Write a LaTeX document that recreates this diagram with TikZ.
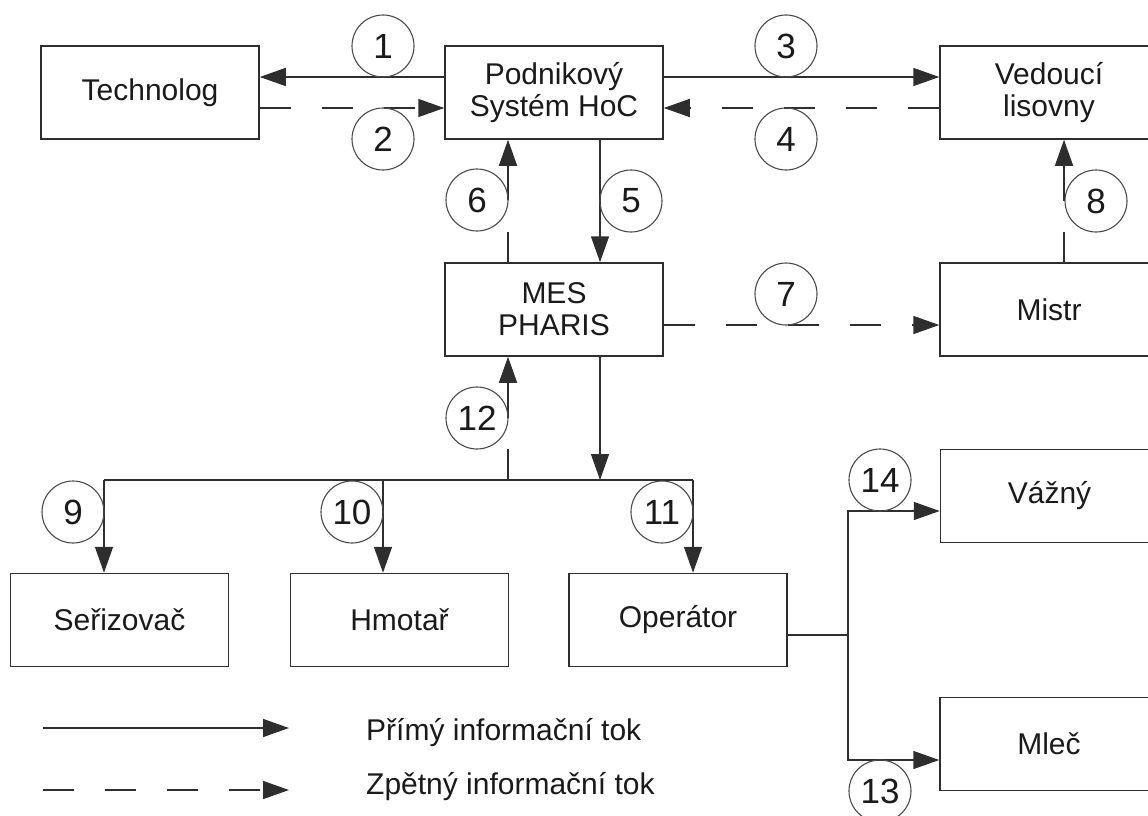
\documentclass[tikz,border=0pt]{standalone}
\usepackage{fontspec}
\setmainfont{Liberation Sans}
\usetikzlibrary{arrows.meta,calc}
\definecolor{linec}{HTML}{2E2E2E}
\definecolor{circc}{HTML}{4A4A4A}
\definecolor{txt}{HTML}{1A1A1A}
\begin{document}
\begin{tikzpicture}[x=1pt,y=-1pt,
  box/.style={draw=linec, line width=1.5pt, minimum width=218pt, minimum height=93pt,
    inner sep=0pt, align=center, text=txt, font=\fontsize{30}{32}\selectfont},
  num/.style={circle, draw=circc, line width=1.1pt, minimum size=62pt, inner sep=0pt,
    text=txt, font=\fontsize{35}{35}\selectfont},
  wire/.style={draw=linec, line width=1.5pt},
  flow/.style={wire, -{Triangle[length=26pt,width=18pt]}},
  back/.style={flow, dash pattern=on 31pt off 31pt},
  legtext/.style={anchor=west, inner sep=0pt, text=txt, font=\fontsize{30}{32}\selectfont}
]
\useasboundingbox (0,0) rectangle (1148,816);

% blocks
\node[box] (tech)  at (150,92.5)    {Technolog};
\node[box] (pod)   at (554,92.5)    {Podnikový\\Systém HoC};
\node[box] (ved)   at (1049,92.5)   {Vedoucí\\lisovny};
\node[box] (mes)   at (554,309.5)   {MES\\PHARIS};
\node[box] (mistr) at (1049,309.5)  {Mistr};
\node[box] (ser)   at (119.5,620)   {Seřizovač};
\node[box] (hmo)   at (399.5,620)   {Hmotař};
\node[box] (op)    at (678,620)     {Operátor};
\node[box] (vaz)   at (1049.5,496)  {Vážný};
\node[box] (mlec)  at (1049,744)    {Mleč};

% upper flows
\draw[flow] ([yshift=15.5pt]pod.west) -- ([yshift=15.5pt]tech.east);
\draw[back] ([yshift=-15.5pt]tech.east) -- ([yshift=-15.5pt]pod.west);
\draw[flow] ([yshift=15.5pt]pod.east) -- ([yshift=15.5pt]ved.west);
\draw[back] ([yshift=-15.5pt]ved.west) -- ([yshift=-15.5pt]pod.east);
\draw[flow] ([xshift=46pt]pod.south) -- ([xshift=46pt]mes.north);
\draw[flow] ([xshift=-46pt]mes.north) -- ([xshift=-46pt]pod.south);
\draw[back] ([yshift=-15.5pt]mes.east) -- ([yshift=-15.5pt]mistr.west);
\draw[flow] ([xshift=15pt]mistr.north) -- ([xshift=15pt]ved.south);

% distribution bus below MES
\coordinate (busL)  at (104,480);
\coordinate (bus10) at (383,480);
\coordinate (busR)  at (693,480);
\coordinate (m5)  at ([xshift=46pt]mes.south);
\coordinate (m12) at ([xshift=-46pt]mes.south);
\draw[wire] (busL) -- (busR);
\draw[flow] (m5) -- (m5 |- busL);
\draw[flow] (m12 |- busL) -- (m12);
\draw[flow] (busL) -- (busL |- ser.north);
\draw[flow] (bus10) -- (bus10 |- hmo.north);
\draw[flow] (busR) -- (busR |- op.north);

% operator branches
\coordinate (opout) at ([yshift=-15pt]op.east);
\coordinate (j) at (848,635);
\draw[wire] (opout) -- (j);
\draw[flow] (j) |- ([yshift=-15pt]vaz.west);
\draw[flow] (j) |- ([yshift=-16pt]mlec.west);

% breaks in the vertical feedback lines
\fill[white] (477,200) rectangle (512,232);
\fill[white] (1060,201) rectangle (1096,232);
\fill[white] (477,418) rectangle (512,449);

% flow numbers
\node[num] (n1)  at (383,46)   {1};
\node[num] (n2)  at (383,139)  {2};
\node[num] (n3)  at (786,46)   {3};
\node[num] (n4)  at (786,139)  {4};
\node[num] (n5)  at (631,201)  {5};
\node[num] (n6)  at (477,200)  {6};
\node[num] (n7)  at (786,294)  {7};
\node[num] (n8)  at (1096,201) {8};
\node[num] (n9)  at (73,512)   {9};
\node[num] (n10) at (352,512)  {10};
\node[num] (n11) at (662,512)  {11};
\node[num] (n12) at (477,418)  {12};
\node[num] (n13) at (880,791)  {13};
\node[num] (n14) at (880,480)  {14};

% legend
\coordinate (ls0) at (43,728);  \coordinate (ls1) at (289,728);
\coordinate (ld0) at (43,790);  \coordinate (ld1) at (289,790);
\draw[flow] (ls0) -- (ls1);
\draw[back] (ld0) -- (ld1);
\node[legtext] (lt1) at (366,733) {Přímý informační tok};
\node[legtext] (lt2) at (366,787) {Zpětný informační tok};
\end{tikzpicture}
\end{document}
